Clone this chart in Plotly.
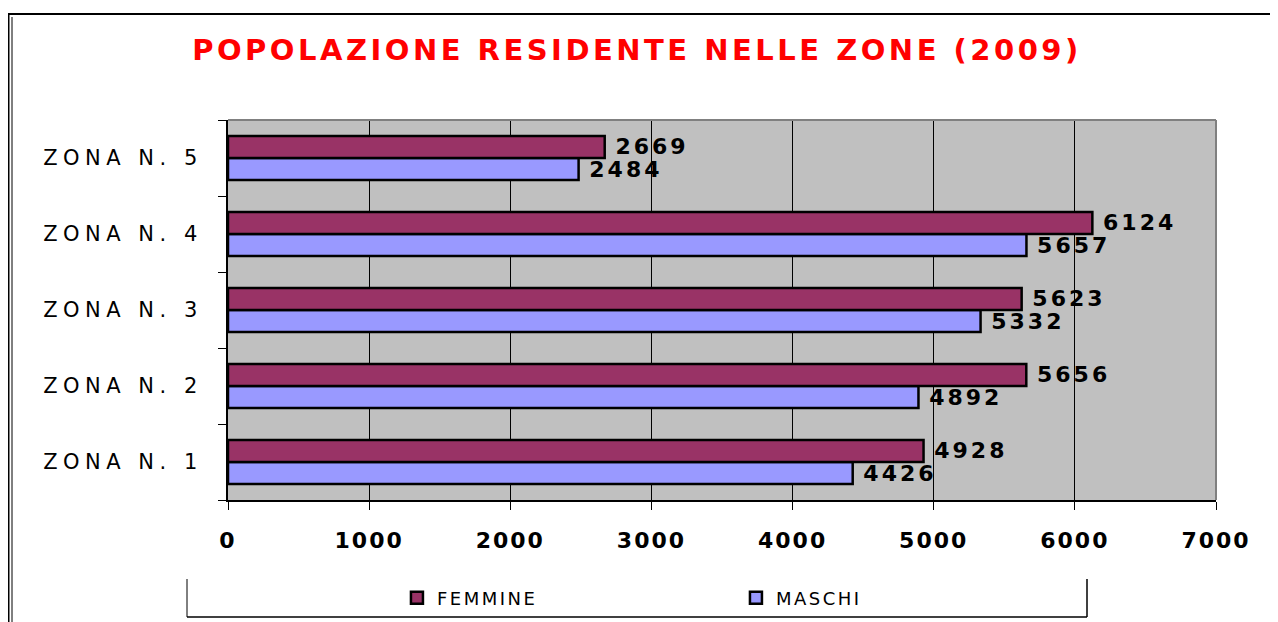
import plotly.graph_objects as go

zones = ["ZONA N. 1", "ZONA N. 2", "ZONA N. 3", "ZONA N. 4", "ZONA N. 5"]
femmine = [4928, 5656, 5623, 6124, 2669]
maschi = [4426, 4892, 5332, 5657, 2484]
x_ticks = [0, 1000, 2000, 3000, 4000, 5000, 6000, 7000]
title_text = "POPOLAZIONE RESIDENTE NELLE ZONE (2009)"


def spaced(s, ls):
    return f"<span style='letter-spacing:{ls}px'>{s}</span>"


label_font = dict(family="DejaVu Sans", size=22, color="black", weight="bold")

fig = go.Figure()
fig.add_trace(go.Bar(
    y=zones, x=maschi, orientation="h", name=spaced("MASCHI", 2.5),
    marker=dict(color="#9999FF", line=dict(color="black", width=2.5)),
    texttemplate=" " + spaced("%{x}", 3), textposition="outside",
    textfont=label_font, constraintext="none",
    cliponaxis=False,
))
fig.add_trace(go.Bar(
    y=zones, x=femmine, orientation="h", name=spaced("FEMMINE", 2.5),
    marker=dict(color="#993366", line=dict(color="black", width=2.5)),
    texttemplate=" " + spaced("%{x}", 3), textposition="outside",
    textfont=label_font, constraintext="none",
    cliponaxis=False,
))

FW, FH = 1270, 614
fig.update_layout(
    width=FW, height=FH,
    margin=dict(l=220, r=62, t=112, b=122, autoexpand=False),
    paper_bgcolor="white", plot_bgcolor="#C0C0C0",
    barmode="group", bargap=0.42, bargroupgap=0,
    title=dict(text=spaced(title_text, 3.5),
               x=629 / FW, xanchor="center", y=1 - 42 / FH, yanchor="middle",
               font=dict(family="DejaVu Sans", size=29, color="#FF0000", weight="bold")),
    xaxis=dict(range=[0, 7000], tickvals=x_ticks,
               ticktext=[spaced(str(v), 2) for v in x_ticks],
               showgrid=True, gridcolor="black", gridwidth=1.3,
               showline=True, linecolor="black", linewidth=2,
               ticks="outside", ticklen=8, tickcolor="black", tickwidth=1.3,
               tickfont=dict(family="DejaVu Sans", size=22, color="black", weight="bold"),
               ticklabelstandoff=12,
               zeroline=False),
    yaxis=dict(showgrid=False, showline=True, linecolor="black", linewidth=2,
               tickvals=zones, ticktext=[spaced(z, 5.5) for z in zones],
               ticks="outside", ticklen=8, tickcolor="black", tickwidth=1.3,
               tickson="boundaries",
               tickfont=dict(family="DejaVu Sans", size=21, color="black"),
               ticklabelstandoff=19),
    legend=dict(orientation="h", x=0.171, xanchor="left", y=-0.258, yanchor="middle",
                traceorder="reversed", entrywidth=294, entrywidthmode="pixels",
                font=dict(family="DejaVu Sans", size=18, color="black", weight="normal"),
                bgcolor="rgba(0,0,0,0)"),
    showlegend=True,
)

# plot area top/right grey border
fig.add_shape(type="line", xref="paper", yref="paper", x0=0, x1=1, y0=1, y1=1,
              line=dict(color="#808080", width=2))
fig.add_shape(type="line", xref="paper", yref="paper", x0=1, x1=1, y0=0, y1=1,
              line=dict(color="#808080", width=2))

W, H = 988, 380


def px(x):
    return (x - 228) / W


def py(y):
    return (500 - y) / H


# outer chart frame (double line on left)
fig.add_shape(type="line", xref="paper", yref="paper", x0=px(8), x1=px(1290), y0=py(14), y1=py(14),
              line=dict(color="black", width=2))
fig.add_shape(type="line", xref="paper", yref="paper", x0=px(8.5), x1=px(8.5), y0=py(14), y1=py(640),
              line=dict(color="black", width=2))
fig.add_shape(type="line", xref="paper", yref="paper", x0=px(12), x1=px(12), y0=py(17), y1=py(640),
              line=dict(color="black", width=1))
# legend box (left, right, bottom)
fig.add_shape(type="line", xref="paper", yref="paper", x0=px(187), x1=px(187), y0=py(579), y1=py(617),
              line=dict(color="black", width=1))
fig.add_shape(type="line", xref="paper", yref="paper", x0=px(1087), x1=px(1087), y0=py(579), y1=py(617),
              line=dict(color="black", width=1.5))
fig.add_shape(type="line", xref="paper", yref="paper", x0=px(187), x1=px(1087), y0=py(617), y1=py(617),
              line=dict(color="black", width=1.5))

fig.write_html("out.html")
